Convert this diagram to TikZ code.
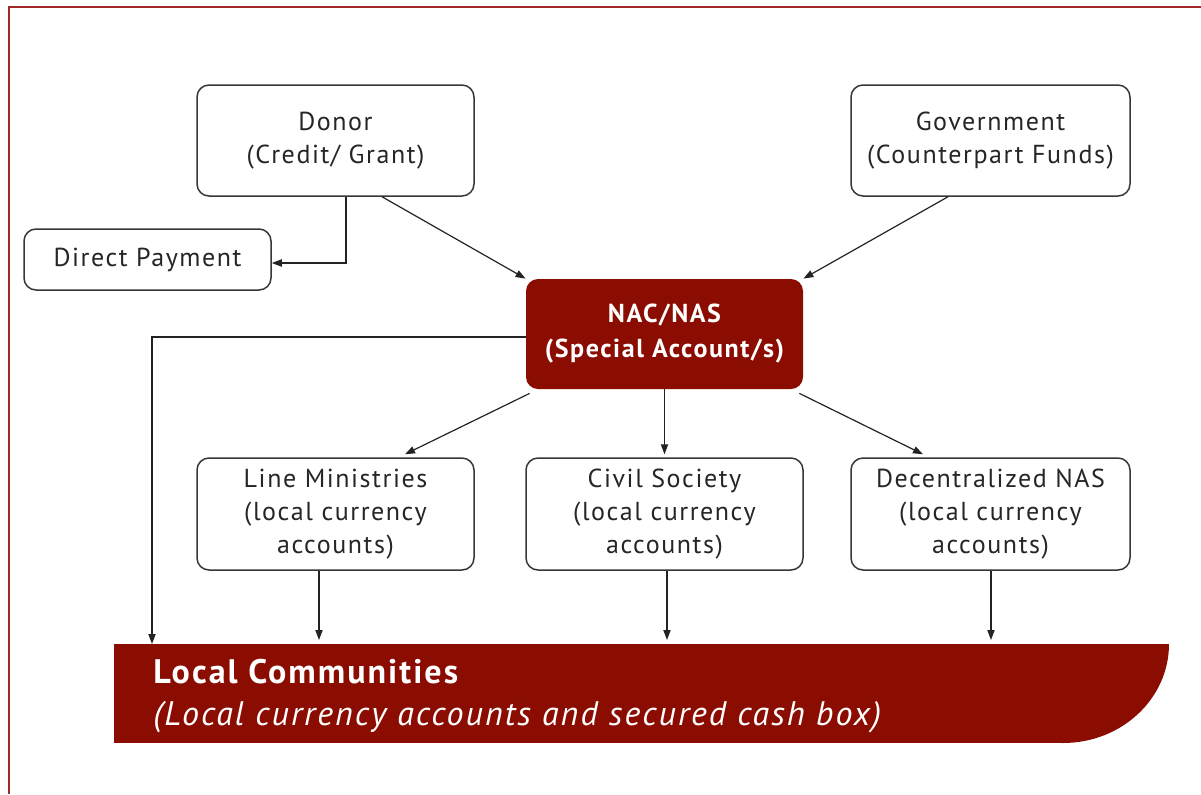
\documentclass[tikz,border=0pt]{standalone}
\usepackage{fontspec}
\setmainfont[LetterSpace=6]{PT Sans}
\usetikzlibrary{arrows.meta}
\definecolor{darkred}{RGB}{139,12,0}
\definecolor{framered}{RGB}{160,40,40}
\definecolor{boxline}{RGB}{55,55,55}
\definecolor{arrline}{RGB}{35,35,35}
\begin{document}
\begin{tikzpicture}[x=0.5pt,y=-0.5pt,
  every node/.style={font=\fontsize{13pt}{16.5pt}\selectfont},
  wbox/.style={draw=boxline,line width=0.75pt,rounded corners=6pt,fill=white,align=center,inner sep=0pt,text=black!85},
  rbox/.style={fill=darkred,rounded corners=6pt,align=center,inner sep=0pt,text=white,font=\fontsize{13pt}{17.5pt}\selectfont\bfseries},
  arr/.style={draw=arrline,line width=0.6pt,-{Triangle[length=5pt,width=3.6pt]}}]
\useasboundingbox (0,0) rectangle (1201,794);
% frame
\draw[framered,line width=0.8pt] (9,794) -- (9,7) -- (1201,7);
% boxes
\node[wbox,minimum width=138.5pt,minimum height=55.5pt] (donor) at (335.5,140.5) {Donor\\(Credit/ Grant)};
\node[wbox,minimum width=139.5pt,minimum height=55.5pt] (gov) at (990.5,140.5) {Government\\(Counterpart Funds)};
\node[wbox,minimum width=123.5pt,minimum height=30.5pt] (direct) at (147.5,259.5) {Direct Payment};
\node[rbox,minimum width=138.5pt,minimum height=55pt] (nac) at (664.5,334) {NAC/NAS\\(Special Account/s)};
\node[wbox,minimum width=138.5pt,minimum height=56pt] (line) at (335.5,514) {Line Ministries\\(local currency\\accounts)};
\node[wbox,minimum width=138.5pt,minimum height=56pt] (civil) at (664.5,514) {Civil Society\\(local currency\\accounts)};
\node[wbox,minimum width=139.5pt,minimum height=56pt] (decen) at (990.5,514) {Decentralized NAS\\(local currency\\accounts)};
% local communities bar
\node[fill=darkred,inner sep=0pt,minimum width=474.5pt,minimum height=49.5pt,anchor=north west] (localbar) at (114,644) {};
\fill[darkred] (1062,644) -- (1169,644) arc[start angle=0,end angle=-90,x radius=53pt,y radius=49.5pt] -- (1062,743) -- cycle;
\node[anchor=west,align=left,text=white,inner sep=0pt,font=\fontsize{17pt}{21pt}\selectfont] (local) at (153,696) {\textbf{Local Communities}\\\textit{(Local currency accounts and secured cash box)}};
% connectors
\draw[arr] ([xshift=5.25pt]donor.south) |- ([yshift=-1.75pt]direct.east);
\draw[arr] ([xshift=23.25pt]donor.south) -- (nac.north west);
\draw[arr] ([xshift=-21.25pt]gov.south) -- (nac.north east);
\draw[arr] ([yshift=-1.5pt]nac.west) -| ([xshift=19pt]localbar.north west);
\draw[arr] ([shift={(2pt,-2pt)}]nac.south west) -- ([shift={(34.75pt,1.5pt)}]line.north);
\draw[arr] (nac.south) -- ([yshift=1.5pt]civil.north);
\draw[arr] ([shift={(-2pt,-2pt)}]nac.south east) -- ([shift={(-33.75pt,1.5pt)}]decen.north);
\draw[arr] ([xshift=-8.25pt]line.south) -- ([xshift=-8.25pt,yshift=2pt]line.south |- localbar.north);
\draw[arr] ([xshift=1.25pt]civil.south) -- ([xshift=1.25pt,yshift=2pt]civil.south |- localbar.north);
\draw[arr] ([xshift=0.25pt]decen.south) -- ([xshift=0.25pt,yshift=2pt]decen.south |- localbar.north);
\end{tikzpicture}
\end{document}
